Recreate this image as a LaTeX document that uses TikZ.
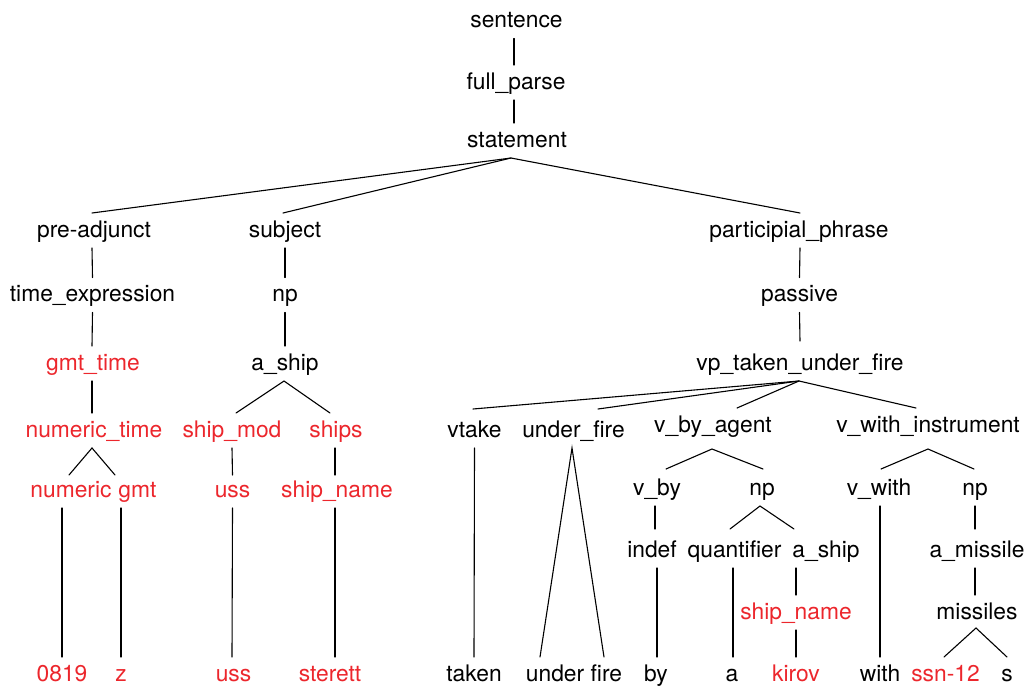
\documentclass[tikz,border=0pt]{standalone}
\usepackage{fontspec}
\setmainfont{TeX Gyre Heros}
\definecolor{tokred}{RGB}{236,38,44}
\tikzset{
	lbl/.style={anchor=base, inner sep=0pt, font=\fontsize{22.8}{26}\selectfont},
	tok/.style={lbl, text=tokred},
	pbot/.style={yshift=-11pt},
	ctop/.style={yshift=24pt},
	edge/.style={line width=1.1pt, line cap=round}
}
\begin{document}
\begin{tikzpicture}[x=1pt,y=-1pt]
	\useasboundingbox (0,0) rectangle (1026,686);
	
	% top of the tree
	\node[lbl] (sent) at (516.5,27.5) {sentence};
	\node[lbl] (fpar) at (516,89) {full\_parse};
	\node[lbl] (stmt) at (517,147) {statement};
	
	\node[lbl] (padj) at (94,237) {pre-adjunct};
	\node[lbl] (subj) at (285,237) {subject};
	\node[lbl] (part) at (799,237) {participial\_phrase};
	
	\node[lbl] (texp) at (92.5,301.5) {time\_expression};
	\node[lbl] (npa) at (285,301.5) {np};
	\node[lbl] (pass) at (799.5,301.5) {passive};
	
	\node[tok] (gmtt) at (93,370) {gmt\_time};
	\node[lbl] (ashipa) at (285,370) {a\_ship};
	\node[lbl] (vptuf) at (800,370) {vp\_taken\_under\_fire};
	
	% time and ship
	\node[tok] (numt) at (94,437) {numeric\_time};
	\node[tok] (smod) at (232,437) {ship\_mod};
	\node[tok] (ships) at (336,437) {ships};
	\node[tok] (num) at (71,497) {numeric};
	\node[tok] (gmt) at (137.5,497) {gmt};
	\node[tok] (ussa) at (232.5,497) {uss};
	\node[tok] (snamea) at (337,497) {ship\_name};
	
	% verb phrase
	\node[lbl] (vtake) at (474.5,437) {vtake};
	\node[lbl] (ufire) at (573.5,437) {under\_fire};
	\node[lbl] (vbyag) at (713,432) {v\_by\_agent};
	\node[lbl] (vwins) at (928,432) {v\_with\_instrument};
	
	\node[lbl] (vby) at (657,495) {v\_by};
	\node[lbl] (npb) at (762,495) {np};
	\node[lbl] (vwith) at (879,495) {v\_with};
	\node[lbl] (npc) at (975,495) {np};
	
	\node[lbl] (indef) at (652,557) {indef};
	\node[lbl] (quant) at (734.5,557) {quantifier};
	\node[lbl] (ashipb) at (826,557) {a\_ship};
	\node[lbl] (amiss) at (977,557) {a\_missile};
	
	\node[tok] (snameb) at (796,619) {ship\_name};
	\node[lbl] (missl) at (977,619) {missiles};
	
	% leaves
	\node[tok] (l0819) at (62,681) {0819};
	\node[tok] (lz) at (121,681) {z};
	\node[tok] (luss) at (233.5,681) {uss};
	\node[tok] (lster) at (330,681) {sterett};
	\node[lbl] (ltaken) at (474,681) {taken};
	\node[lbl] (lufire) at (574,681) {under fire};
	\node[lbl] (lby) at (656,681) {by};
	\node[lbl] (la) at (732,681) {a};
	\node[tok] (lkirov) at (796,681) {kirov};
	\node[lbl] (lwith) at (880,681) {with};
	\node[tok] (lssn) at (945.5,681) {ssn-12};
	\node[lbl] (ls) at (1007,681) {s};
	
	% branches
	\draw[edge] ([pbot,xshift=-2.5pt]sent.base) -- ([ctop,xshift=-2pt]fpar.base);
	\draw[edge] ([pbot,xshift=-2pt]fpar.base) -- ([ctop,xshift=-3pt]stmt.base);
	\draw[edge] ([ctop,xshift=-2pt]padj.base) -- ([pbot,xshift=-6pt]stmt.base)
		-- ([ctop,xshift=1pt]part.base);
	\draw[edge] ([pbot,xshift=-6pt]stmt.base) -- ([ctop,xshift=-2pt]subj.base);
	
	\draw[edge] ([pbot,xshift=-2pt]padj.base) -- ([ctop]texp.base);
	\draw[edge] ([pbot]texp.base) -- ([ctop,xshift=-1pt]gmtt.base);
	\draw[edge] ([pbot,xshift=-1pt]gmtt.base) -- ([ctop,xshift=-2pt]numt.base);
	\draw[edge] ([ctop,xshift=-2pt,yshift=-2pt]num.base) -- ([pbot,xshift=-2pt]numt.base)
		-- ([ctop,xshift=-22.5pt,yshift=-2pt]gmt.base);
	\draw[edge] ([pbot,xshift=-9pt]num.base) -- ([ctop]l0819.base);
	\draw[edge] ([pbot,xshift=-16.5pt]gmt.base) -- ([ctop]lz.base);
	
	\draw[edge] ([pbot]subj.base) -- ([ctop]npa.base);
	\draw[edge] ([pbot]npa.base) -- ([ctop]ashipa.base);
	\draw[edge] ([ctop,xshift=4pt]smod.base) -- ([pbot,xshift=-1pt]ashipa.base)
		-- ([ctop,xshift=-6pt]ships.base);
	\draw[edge] ([pbot]smod.base) -- ([ctop,yshift=-2pt]ussa.base);
	\draw[edge] ([pbot,xshift=-1pt]ships.base) -- ([ctop,xshift=-2pt,yshift=-2pt]snamea.base);
	\draw[edge] ([pbot]ussa.base) -- ([ctop,xshift=-1.5pt]luss.base);
	\draw[edge] ([pbot,xshift=-2pt]snamea.base) -- ([ctop,xshift=5pt]lster.base);
	
	\draw[edge] ([pbot,xshift=1pt]part.base) -- ([ctop]pass.base);
	\draw[edge] ([pbot]pass.base) -- ([ctop,yshift=5pt]vptuf.base);
	\draw[edge] ([ctop,xshift=-1.5pt,yshift=4pt]vtake.base) -- ([pbot,xshift=-1pt]vptuf.base)
		-- ([ctop,xshift=-12pt]vwins.base);
	\draw[edge] ([pbot,xshift=-1pt]vptuf.base) -- ([ctop,xshift=24.5pt,yshift=4pt]ufire.base);
	\draw[edge] ([pbot,xshift=-1pt]vptuf.base) -- ([ctop,xshift=24pt]vbyag.base);
	
	\draw[edge] ([pbot]vtake.base) -- ([ctop]ltaken.base);
	\draw[edge] ([ctop,xshift=-34pt]lufire.base) -- ([pbot,xshift=-1.5pt]ufire.base)
		-- ([ctop,xshift=30pt]lufire.base);
	
	\draw[edge] ([ctop,xshift=9pt,yshift=2pt]vby.base) -- ([pbot,xshift=-1pt,yshift=-6pt]vbyag.base)
		-- ([ctop,xshift=1pt,yshift=2pt]npb.base);
	\draw[edge] ([pbot,xshift=-2pt]vby.base) -- ([ctop,xshift=3pt,yshift=4pt]indef.base);
	\draw[edge] ([ctop,xshift=-4.5pt,yshift=4pt]quant.base) -- ([pbot,xshift=-2pt]npb.base)
		-- ([ctop,xshift=-32pt,yshift=4pt]ashipb.base);
	\draw[edge] ([pbot,xshift=5pt]indef.base) -- ([ctop,xshift=1pt]lby.base);
	\draw[edge] ([pbot,xshift=-1.5pt]quant.base) -- ([ctop,xshift=1pt]la.base);
	\draw[edge] ([pbot,xshift=-30pt]ashipb.base) -- ([ctop]snameb.base);
	\draw[edge] ([pbot]snameb.base) -- ([ctop]lkirov.base);
	
	\draw[edge] ([ctop,xshift=2pt,yshift=2pt]vwith.base) -- ([pbot,yshift=-6pt]vwins.base)
		-- ([ctop,xshift=-1pt,yshift=2pt]npc.base);
	\draw[edge] ([pbot,xshift=1pt]vwith.base) -- ([ctop]lwith.base);
	\draw[edge] ([pbot]npc.base) -- ([ctop,xshift=-2pt,yshift=4pt]amiss.base);
	\draw[edge] ([pbot,xshift=-2pt]amiss.base) -- ([ctop,xshift=-2pt]missl.base);
	\draw[edge] ([ctop,xshift=-1.5pt]lssn.base) -- ([pbot,xshift=-1pt,yshift=2pt]missl.base)
		-- ([ctop]ls.base);
	
\end{tikzpicture}
\end{document}
